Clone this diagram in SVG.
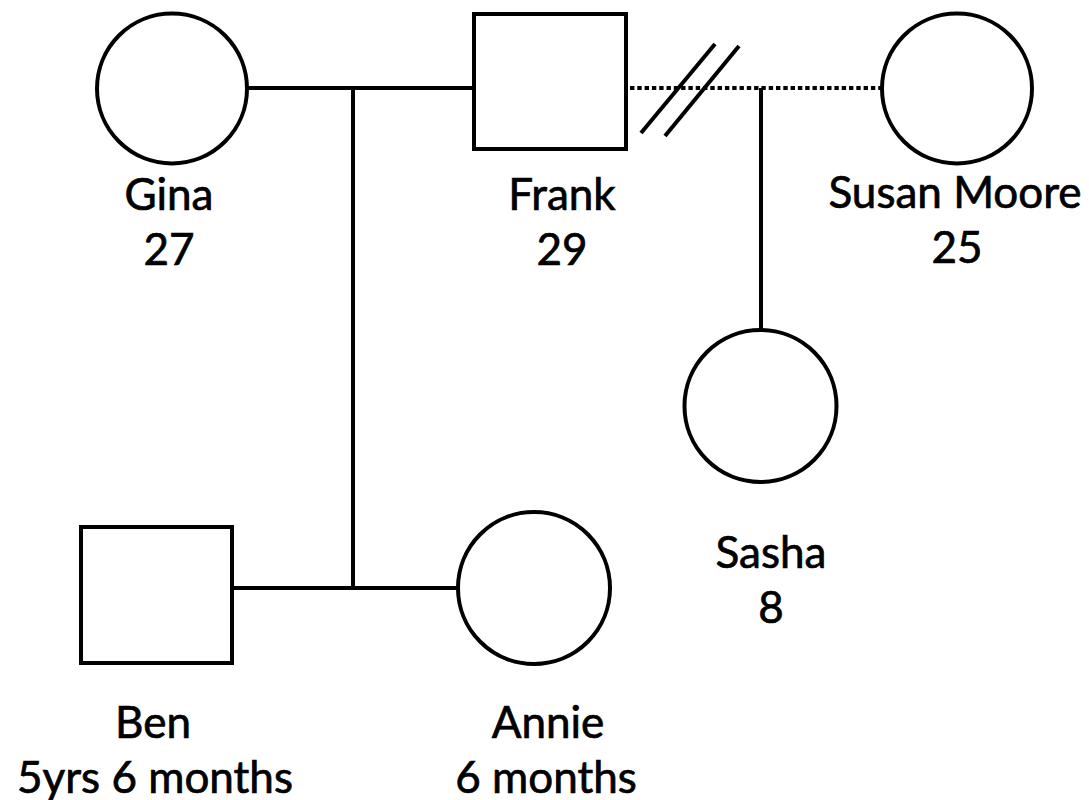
<svg xmlns="http://www.w3.org/2000/svg" width="1089" height="800" viewBox="0 0 1089 800">
<style>
.shape{fill:#fff;stroke:#000;stroke-width:4}
.ln{stroke:#000;stroke-width:4;fill:none}
.dot{stroke:#000;stroke-width:4;fill:none;stroke-dasharray:4.4 2.9}
.lbl{font-family:Lato,"Liberation Sans",sans-serif;font-size:44px;fill:#000;stroke:#000;stroke-width:0.7;text-anchor:middle}
</style>
<rect width="1089" height="800" fill="#fff"/>
<g id="connectors">
<line class="ln" x1="247" y1="88" x2="474" y2="88"/>
<line class="ln" x1="353" y1="88" x2="353" y2="588"/>
<line class="ln" x1="232" y1="588" x2="458" y2="588"/>
<line class="dot" x1="630" y1="88" x2="881" y2="88"/>
<line class="ln" x1="761" y1="88" x2="761" y2="330"/>
<line class="ln" x1="641" y1="133" x2="715" y2="44"/>
<line class="ln" x1="665" y1="136" x2="739" y2="46"/>
</g>
<g id="gina">
<circle class="shape" cx="172" cy="88.5" r="75"/>
<text class="lbl" x="169" y="210">Gina</text>
<text class="lbl" x="169" y="265">27</text>
</g>
<g id="frank">
<rect class="shape" x="474" y="14" width="152" height="135"/>
<text class="lbl" x="562" y="210">Frank</text>
<text class="lbl" x="562" y="265">29</text>
</g>
<g id="susan">
<circle class="shape" cx="957" cy="88.5" r="75"/>
<text class="lbl" x="955" y="208">Susan Moore</text>
<text class="lbl" x="957" y="263">25</text>
</g>
<g id="sasha">
<circle class="shape" cx="760.5" cy="406" r="76"/>
<text class="lbl" x="771" y="568">Sasha</text>
<text class="lbl" x="771" y="623">8</text>
</g>
<g id="ben">
<rect class="shape" x="81" y="527" width="151" height="136"/>
<text class="lbl" x="153" y="738">Ben</text>
<text class="lbl" x="155" y="793">5yrs 6 months</text>
</g>
<g id="annie">
<circle class="shape" cx="534" cy="588" r="76"/>
<text class="lbl" x="548" y="738">Annie</text>
<text class="lbl" x="546" y="793">6 months</text>
</g>
</svg>
